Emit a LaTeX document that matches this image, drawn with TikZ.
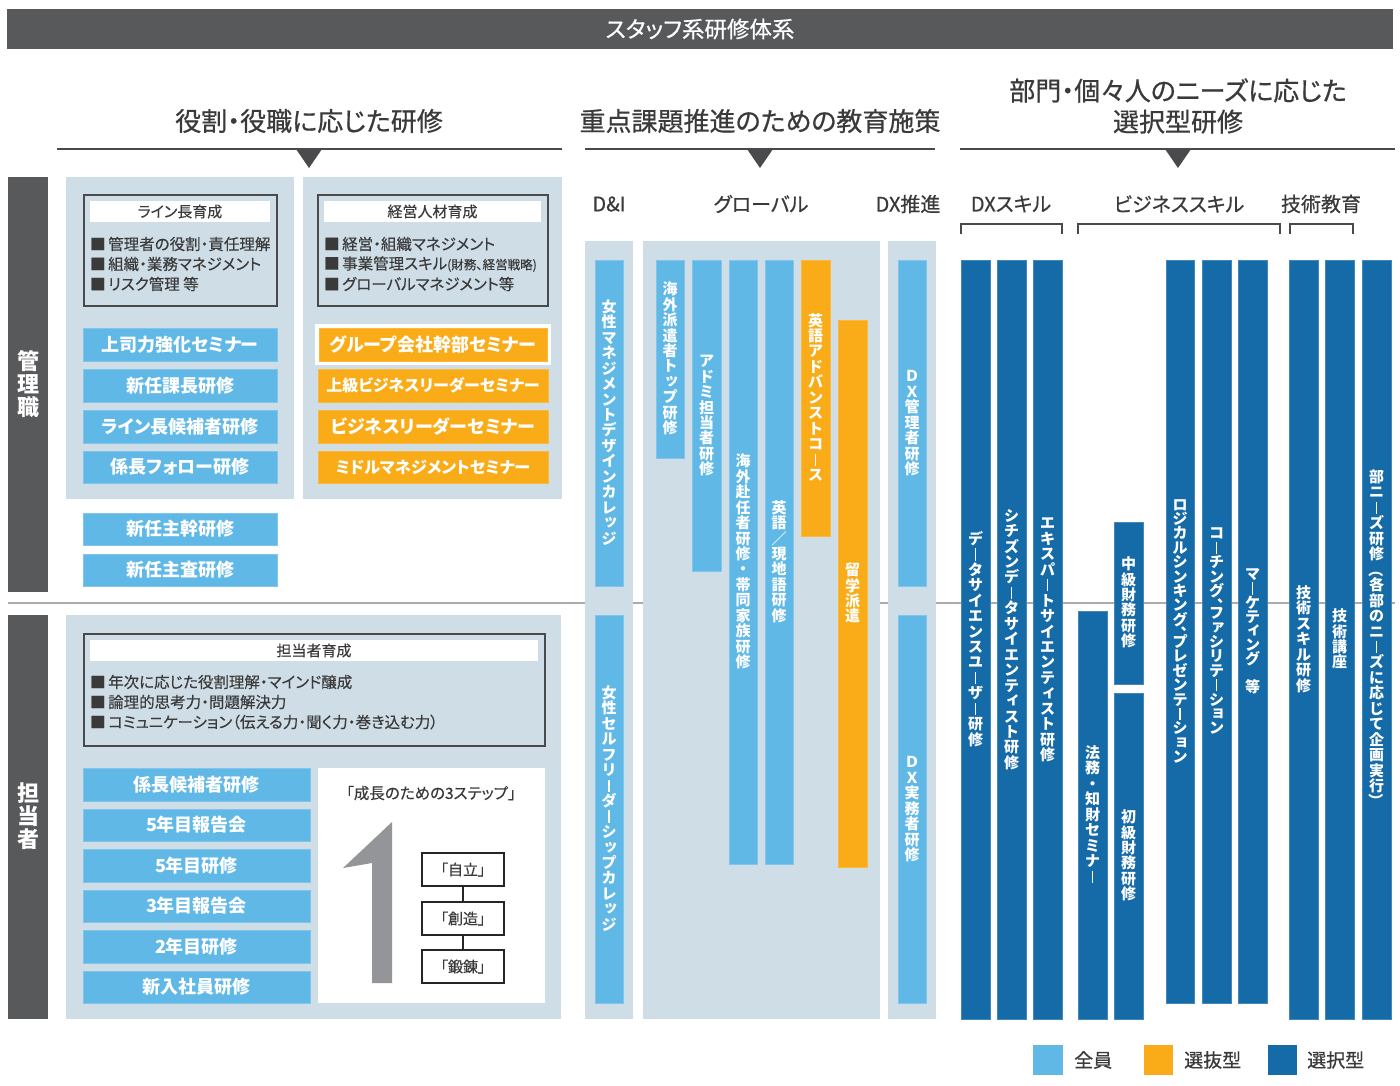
\documentclass[tikz,border=0pt]{standalone}
\usepackage{fontspec}
\setmainfont[RawFeature=+palt]{Noto Sans CJK JP}
\newfontfamily\medfont[RawFeature=+palt,FakeBold=0.6]{Noto Sans CJK JP}
\newfontfamily\itemfont[RawFeature=+palt,FakeBold=0.3]{Noto Sans CJK JP}
\newfontfamily\vfont{Noto Sans CJK JP}
\usepackage{graphicx}
\definecolor{hdr}{HTML}{58595B}
\definecolor{panelc}{HTML}{CFDEE6}
\definecolor{lblue}{HTML}{60B8E7}
\definecolor{orng}{HTML}{FAAC18}
\definecolor{dblue}{HTML}{156AA8}
\definecolor{txt}{HTML}{3A3A3A}
\definecolor{grayone}{HTML}{939598}
\definecolor{sepl}{HTML}{ABABAB}
\definecolor{boxln}{HTML}{4A4A4C}
\newcommand\fsz[1]{\fontsize{#1}{#1}\selectfont}
\newcommand\sq{■\kern2.5pt}
\makeatletter
\def\vt@long{ー}
\def\vt@comma{、}
\def\vt@lp{（}
\def\vt@rp{）}
\newcommand\vtext[2][1.03]{\vbox{\offinterlineskip\def\vt@p{#1}\@tfor\vt@c:=#2\do{\vt@cell}}}
\def\vt@cell{%
  \ifx\vt@c\vt@comma
    \hbox to 1em{\vrule width 0pt height .52em depth 0pt\kern.55em\raisebox{.3em}{\smash{\hbox to .45em{\rmfamily\bfseries\vt@c\hss}}}\hss}%
  \else
    \hbox to 1em{\vrule width 0pt height \dimexpr\vt@p em*84/100\relax depth \dimexpr\vt@p em*16/100\relax\hss\smash{\vt@glyph}\hss}%
  \fi}
\def\vt@glyph{%
  \ifx\vt@c\vt@long
    \vrule width .085em height .77em depth .05em
  \else\ifx\vt@c\vt@lp
    \rotatebox[origin=c]{-90}{\vt@c}%
  \else\ifx\vt@c\vt@rp
    \rotatebox[origin=c]{-90}{\vt@c}%
  \else
    \expandafter\in@\expandafter{\vt@c}{ッィャョュァェ}%
    \ifin@ \raisebox{.12em}{\kern.1em\vt@c\kern-.1em}\else\vt@c\fi
  \fi\fi\fi}
\makeatother
% rbox[style]{name}{x1}{y1}{x2}{y2}{text}
\newcommand\rbox[7][]{\node[rectangle, inner sep=0pt, outer sep=0pt,
  minimum width={(#5)-(#3)}, minimum height={(#6)-(#4)}, #1] (#2)
  at ({((#3)+(#5))/2},{((#4)+(#6))/2}) {#7};}
\tikzset{
  head/.style={text=txt, font=\medfont\fontsize{26}{31}\selectfont, inner sep=0, align=center},
  subhead/.style={text=txt, font=\medfont\fsz{20}, inner sep=0},
  item/.style={text=txt, font=\itemfont\fsz{15.5}, inner sep=0, anchor=west},
  lbtn/.style={fill=lblue, draw=lblue!80!white, line width=0.8, text=white, font=\fsz{18}\bfseries},
  obtn/.style={fill=orng, draw=orng!85!white, line width=0.8, text=white, font=\fsz{18}\bfseries},
  vlb/.style={fill=lblue, draw=lblue!80!white, line width=0.6, text=white, font=\vfont\fsz{15}\bfseries},
  vob/.style={fill=orng, draw=orng!85!white, line width=0.6, text=white, font=\vfont\fsz{15}\bfseries},
  vdb/.style={fill=dblue, draw=dblue!80!white, line width=0.6, text=white, font=\vfont\fsz{15}\bfseries},
  sidebar/.style={fill=hdr, text=white, font=\vfont\fsz{22}\bfseries},
  framebox/.style={draw=boxln, line width=2.5},
  labelbar/.style={fill=white, text=txt, font=\itemfont\fsz{15}},
  stepbox/.style={draw=black!85, line width=2, fill=white, text=txt, font=\itemfont\fsz{15}},
  hline/.style={draw=boxln, line width=2},
  legendtxt/.style={text=txt, font=\medfont\fsz{19}, inner sep=0, anchor=west}
}
\begin{document}
\begin{tikzpicture}[x=1pt,y=-1pt]
\useasboundingbox (0,0) rectangle (1400,1085);
\fill[white] (0,0) rectangle (1400,1085);
% separator line
\draw[sepl, line width=1.5] (8,603) -- (1395,603);
% title bar
\rbox[fill=hdr, text=white, font=\medfont\fsz{22.5}]{title}{7}{9}{1393}{49}{スタッフ系研修体系}
% headings
\node[head] (h1) at (309,121) {役割・役職に応じた研修};
\node[head] (h2) at (760,121) {重点課題推進のための教育施策};
\node[head] (h3) at (1178,106) {部門・個々人のニーズに応じた\\選択型研修};
\draw[hline] (57,149) -- (562,149);
\draw[hline] (585,149) -- (935,149);
\draw[hline] (960,149) -- (1395,149);
\fill[boxln] (296,149) -- (322,149) -- (309,168) -- cycle;
\fill[boxln] (747,149) -- (773,149) -- (760,168) -- cycle;
\fill[boxln] (1165,149) -- (1191,149) -- (1178,168) -- cycle;
% side bars
\rbox[sidebar]{kanri}{8}{177}{48}{592}{\vtext[1.05]{管理職}}
\rbox[sidebar]{tanto}{8}{615}{48}{1019}{\vtext[1.05]{担当者}}
% left panels
\fill[panelc] (66,177) rectangle (294,499);
\fill[panelc] (303,177) rectangle (562,499);
\fill[panelc] (66,615) rectangle (561,1019);
% frame boxes
\rbox[framebox]{fbA}{84}{195}{277}{306}{}
\rbox[labelbar]{fbAt}{90}{201}{270}{222}{ライン長育成}
\node[item] (a1) at (90,244) {\sq 管理者の役割・責任理解};
\node[item] (a2) at (90,264) {\sq 組織・業務マネジメント};
\node[item] (a3) at (90,284) {\sq リスク管理 等};
\rbox[framebox]{fbB}{318}{195}{548}{306}{}
\rbox[labelbar]{fbBt}{324}{201}{541}{222}{経営人材育成}
\node[item] (b1) at (324,244) {\sq 経営・組織マネジメント};
\node[item] (b2) at (324,264) {\sq 事業管理スキル{\fsz{12.5}(財務、経営戦略)}};
\node[item] (b3) at (324,284) {\sq グローバルマネジメント等};
\rbox[framebox]{fbC}{84}{634}{545}{746}{}
\rbox[labelbar]{fbCt}{90}{640}{538}{661}{担当者育成}
\node[item] (c1) at (90,682) {\sq 年次に応じた役割理解・マインド醸成};
\node[item] (c2) at (90,702) {\sq 論理的思考力・問題解決力};
\node[item] (c3) at (90,722) {\sq コミュニケーション（伝える力・聞く力・巻き込む力）};
% blue buttons upper
\rbox[lbtn]{u1}{83}{328}{277}{361}{上司力強化セミナー}
\rbox[lbtn]{u2}{83}{369}{277}{402}{新任課長研修}
\rbox[lbtn]{u3}{83}{410}{277}{443}{ライン長候補者研修}
\rbox[lbtn]{u4}{83}{451}{277}{483}{係長フォロー研修}
\rbox[lbtn]{u5}{83}{513}{277}{545}{新任主幹研修}
\rbox[lbtn]{u6}{83}{554}{277}{586}{新任主査研修}
% orange buttons
\fill[white] (315,324) rectangle (551,365);
\rbox[obtn]{o1}{319}{328}{547}{361}{グループ会社幹部セミナー}
\rbox[obtn, font=\fsz{16}\bfseries]{o2}{318}{369}{548}{402}{上級ビジネスリーダーセミナー}
\rbox[obtn]{o3}{318}{410}{548}{443}{ビジネスリーダーセミナー}
\rbox[obtn, font=\fsz{16.2}\bfseries]{o4}{318}{451}{548}{483}{ミドルマネジメントセミナー}
% blue buttons lower
\rbox[lbtn]{w1}{83}{768}{310}{801}{係長候補者研修}
\rbox[lbtn]{w2}{83}{809}{310}{841}{5年目報告会}
\rbox[lbtn]{w3}{83}{849}{310}{882}{5年目研修}
\rbox[lbtn]{w4}{83}{890}{310}{922}{3年目報告会}
\rbox[lbtn]{w5}{83}{930}{310}{963}{2年目研修}
\rbox[lbtn]{w6}{83}{971}{310}{1003}{新入社員研修}
% growth steps box
\rbox[fill=white]{gbox}{318}{768}{545}{1003}{}
\node[text=txt, font=\itemfont\fsz{15.5}, inner sep=0] (gt) at (431,793) {「成長のための3ステップ」};
\fill[grayone] (392,822) -- (392,983) -- (372,983) -- (372,863) -- (343,868) -- cycle;
\rbox[stepbox]{s1}{422}{853}{504}{886}{「自立」}
\rbox[stepbox]{s2}{422}{902}{504}{935}{「創造」}
\rbox[stepbox]{s3}{422}{950}{504}{983}{「鍛錬」}
\draw[black!85, line width=2] (s1.south) -- (s2.north);
\draw[black!85, line width=2] (s2.south) -- (s3.north);
% middle subheads
\node[subhead] (sh1) at (609,204) {D\&I};
\node[subhead] (sh2) at (761,204) {グローバル};
\node[subhead] (sh3) at (908,204) {DX推進};
% middle panels
\fill[panelc] (585,241) rectangle (633,1019);
\fill[panelc] (643,241) rectangle (880,1019);
\fill[panelc] (888,241) rectangle (936,1019);
\rbox[vlb]{m1}{595}{260}{623}{586}{\vtext{女性マネジメントデザインカレッジ}}
\rbox[vlb]{m2}{595}{615}{623}{1003}{\vtext{女性セルフリーダーシップカレッジ}}
\rbox[vlb]{g1}{656}{260}{684}{458}{\vtext{海外派遣者トップ研修}}
\rbox[vlb]{g2}{692}{260}{721}{571}{\vtext{アドミ担当者研修}}
\rbox[vlb]{g3}{729}{260}{757}{864}{\vtext{海外赴任者研修・帯同家族研修}}
\rbox[vlb]{g4}{765}{260}{793}{864}{\vtext{英語／現地語研修}}
\rbox[vob]{g5}{801}{260}{830}{536}{\vtext{英語アドバンストコース}}
\rbox[vob]{g6}{838}{320}{867}{867}{\vtext{留学派遣}}
\rbox[vlb]{d1}{898}{260}{926}{586}{\vtext{ＤＸ管理者研修}}
\rbox[vlb]{d2}{898}{615}{926}{1003}{\vtext{ＤＸ実務者研修}}
% right subheads and brackets
\node[subhead] (sh4) at (1011,204) {DXスキル};
\node[subhead] (sh5) at (1179,204) {ビジネススキル};
\node[subhead] (sh6) at (1321,204) {技術教育};
\draw[boxln, line width=2.2] (961,234) -- (961,224) -- (1062,224) -- (1062,234);
\draw[boxln, line width=2.2] (1078,234) -- (1078,224) -- (1280,224) -- (1280,234);
\draw[boxln, line width=2.2] (1290,234) -- (1290,224) -- (1353,224) -- (1353,234);
% right bars
\rbox[vdb]{r1}{961}{260}{990}{1019}{\vtext{データサイエンスユーザー研修}}
\rbox[vdb]{r2}{997}{260}{1026}{1019}{\vtext{シチズンデータサイエンティスト研修}}
\rbox[vdb]{r3}{1033}{260}{1062}{1019}{\vtext{エキスパートサイエンティスト研修}}
\rbox[vdb]{r4}{1078}{611}{1107}{1019}{\vtext{法務・知財セミナー}}
\rbox[vdb]{r5}{1114}{522}{1143}{684}{\vtext{中級財務研修}}
\rbox[vdb]{r6}{1114}{693}{1143}{1019}{\vtext{初級財務研修}}
\rbox[vdb]{r7}{1166}{260}{1194}{1003}{\vtext[0.96]{ロジカルシンキング、プレゼンテーション}}
\rbox[vdb]{r8}{1202}{260}{1231}{1003}{\vtext[0.96]{コーチング、ファシリテーション}}
\rbox[vdb]{r9}{1238}{260}{1267}{1003}{\vtext[0.94]{マーケティング　等}}
\rbox[vdb]{r10}{1289}{260}{1318}{1019}{\vtext{技術スキル研修}}
\rbox[vdb]{r11}{1325}{260}{1354}{1019}{\vtext{技術講座}}
\rbox[vdb]{r12}{1362}{260}{1391}{1019}{\vtext{部ニーズ研修（各部のニーズに応じて企画実行）}}
% legend
\rbox[fill=lblue]{lg1}{1033}{1045}{1063}{1075}{}
\node[legendtxt] (lg1t) at (1074,1060) {全員};
\rbox[fill=orng]{lg2}{1144}{1045}{1173}{1075}{}
\node[legendtxt] (lg2t) at (1184,1060) {選抜型};
\rbox[fill=dblue]{lg3}{1268}{1045}{1297}{1075}{}
\node[legendtxt] (lg3t) at (1307,1060) {選択型};
\end{tikzpicture}
\end{document}
